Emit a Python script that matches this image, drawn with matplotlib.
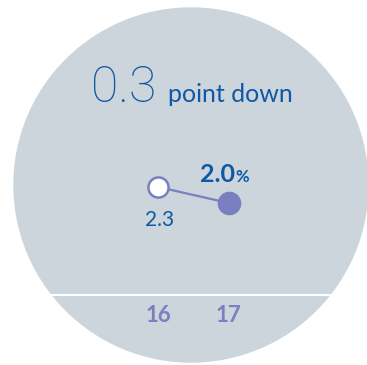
import matplotlib.pyplot as plt
from matplotlib.patches import Circle

# datos
years = ['16', '17']
rates = [2.3, 2.0]
change = 0.3
headline_unit = 'point down'

bg_color = '#cdd5dc'
dark_blue = '#0e58a5'
purple = '#7a7fc0'

plt.rcParams['font.family'] = ['Lato', 'DejaVu Sans']

fig = plt.figure(figsize=(3.67, 3.65), dpi=100)
fig.patch.set_facecolor('white')

# fondo: circulo gris y linea blanca (coordenadas en pixeles)
bg = fig.add_axes([0, 0, 1, 1])
bg.set_xlim(0, 367)
bg.set_ylim(365, 0)
bg.axis('off')
bg.add_patch(Circle((191, 185), 177, color=bg_color, zorder=0))
bg.axhline(295, color='white', lw=1.5, zorder=1)

bg.text(91, 102, f'{change:.1f}', fontsize=36, fontweight='light',
        family=['Roboto', 'Lato'], color=dark_blue, ha='left', va='baseline')
bg.text(168, 102, headline_unit, fontsize=18, fontweight='normal',
        color=dark_blue, ha='left', va='baseline')

# grafico de la serie
ax = fig.add_axes([123 / 367, 70 / 365, 141 / 367, 145 / 365])
ax.set_xlim(-0.5, 1.5)
ax.set_ylim(0.275, 2.994)
ax.patch.set_visible(False)
for s in ax.spines.values():
    s.set_visible(False)
ax.set_yticks([])
x = list(range(len(years)))
ax.set_xticks(x)
ax.set_xticklabels(years, fontsize=16, fontweight='bold', color=purple)
ax.tick_params(axis='x', length=0, pad=7)

ax.plot(x, rates, color=purple, lw=1.6, zorder=2)
ax.plot(x[0], rates[0], 'o', ms=14.5, mfc='white', mec=purple, mew=1.8, zorder=3)
ax.plot(x[1], rates[1], 'o', ms=16, mfc=purple, mec=purple, zorder=3)

ax.annotate(f'{rates[0]:.1f}', (x[0], rates[0]), xytext=(1, -39),
            textcoords='offset pixels', ha='center', va='baseline',
            fontsize=15, color=dark_blue)
ax.annotate(f'{rates[1]:.1f}', (x[1], rates[1]), xytext=(-11, 21),
            textcoords='offset pixels', ha='center', va='baseline',
            fontsize=18, fontweight='bold', color=dark_blue)
ax.annotate('%', (x[1], rates[1]), xytext=(7, 21),
            textcoords='offset pixels', ha='left', va='baseline',
            fontsize=12, fontweight='bold', color=dark_blue)

fig.savefig('out.png', dpi=100)
